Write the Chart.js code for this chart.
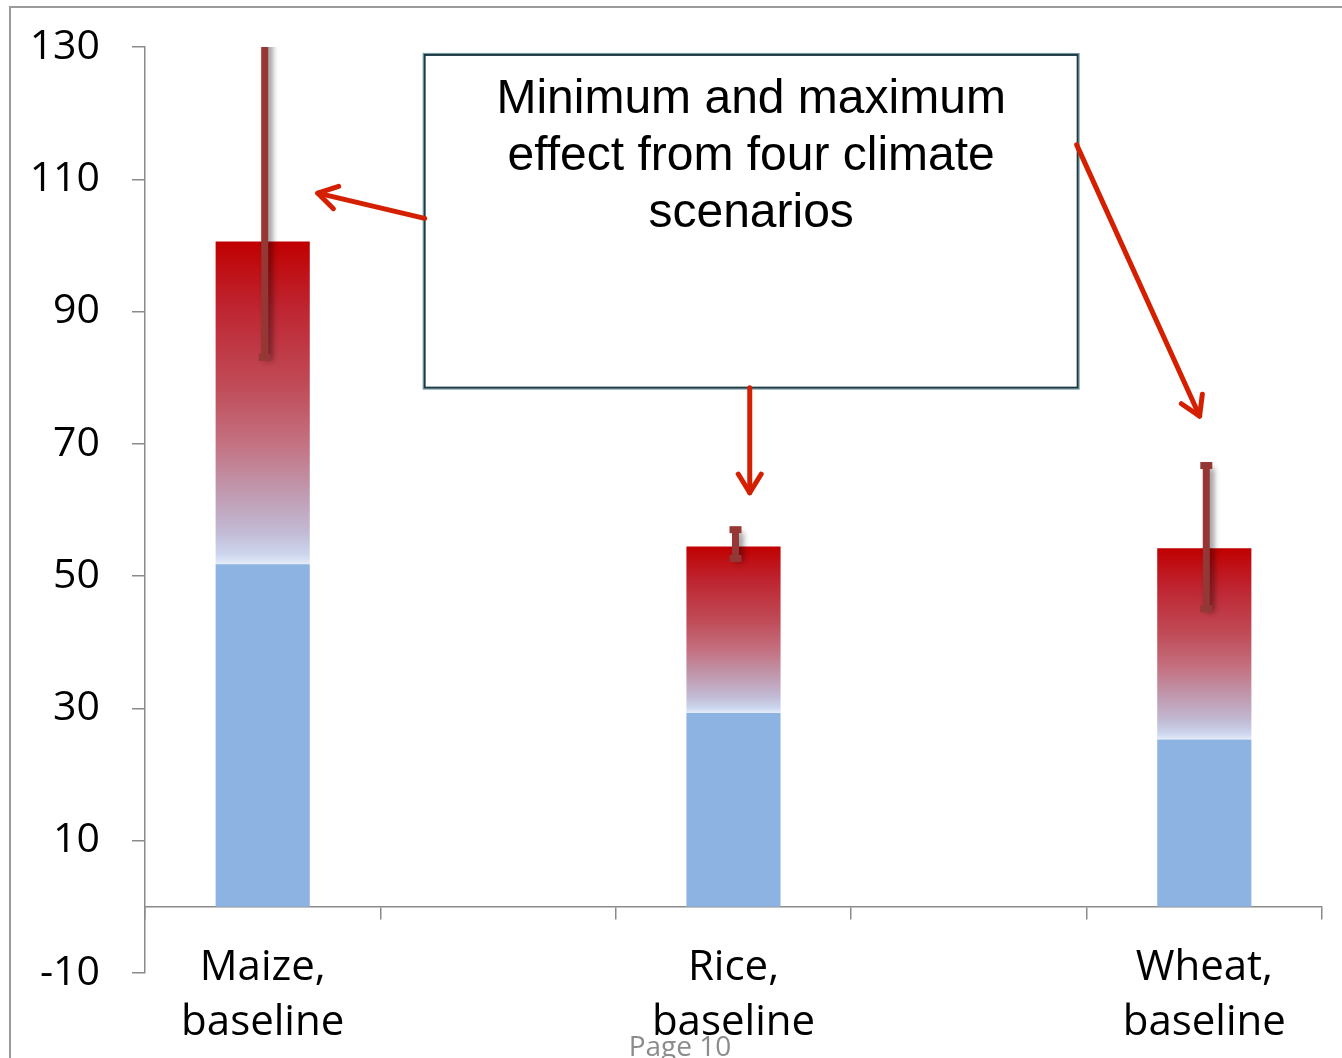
<!DOCTYPE html>
<html>
<head>
<meta charset="utf-8">
<script src="https://cdn.jsdelivr.net/npm/chart.js@4.4.1/dist/chart.umd.min.js"></script>
<style>
  html, body { margin: 0; padding: 0; background: #fff; }
  #wrap { position: relative; width: 1342px; height: 1058px; overflow: hidden; }
</style>
</head>
<body>
<div id="wrap"><canvas id="cropChart" width="1342" height="1058"></canvas></div>
<script>
// categories (empty slots between crops, as in the original sheet)
const categories = [['Maize,', 'baseline'], '', ['Rice,', 'baseline'], '', ['Wheat,', 'baseline']];
// baseline yield (blue part)
const baselineValues = [51.8, null, 29.3, null, 25.3];
// top of the climate effect bar
const effectTop = [100.6, null, 54.5, null, 54.2];
// min / max effect from the four climate scenarios
const effectMin = [83.0, null, 52.6, null, 45.0];
const effectMax = [135, null, 57.1, null, 66.8];
const yTicks = [-10, 10, 30, 50, 70, 90, 110, 130];

const noteLines = ['Minimum and maximum', 'effect from four climate', 'scenarios'];

// stacked part = top - baseline
const effectPart = effectTop.map((v, i) => v == null ? null : v - baselineValues[i]);

function effectGradient(c) {
    const chart = c.chart;
    const i = c.dataIndex;
    if (!chart.chartArea || i == null || effectTop[i] == null) return '#C00000';
    const y = chart.scales.y;
    const yTop = y.getPixelForValue(effectTop[i]);
    const yBot = y.getPixelForValue(baselineValues[i]);
    const g = chart.ctx.createLinearGradient(0, yTop, 0, yBot);
    g.addColorStop(0, '#C00000');
    g.addColorStop(0.2, '#BE2430');
    g.addColorStop(0.45, '#C04C58');
    g.addColorStop(0.62, '#C47080');
    g.addColorStop(0.78, '#C09AB0');
    g.addColorStop(0.9, '#C2BAD4');
    g.addColorStop(0.97, '#CCD6EE');
    g.addColorStop(1, '#E6EDF8');
    return g;
}

// slide frame and page footer
const framePlugin = {
    id: 'frame',
    beforeDraw(chart) {
        const ctx = chart.ctx;
        ctx.save();
        ctx.fillStyle = '#fff';
        ctx.fillRect(0, 0, chart.width, chart.height);
        ctx.strokeStyle = '#9a9a9a';
        ctx.lineWidth = 2;
        ctx.beginPath();
        ctx.moveTo(10, chart.height);
        ctx.lineTo(10, 7);
        ctx.lineTo(chart.width, 7);
        ctx.stroke();
        ctx.fillStyle = '#8c8c8c';
        ctx.font = '28px "Open Sans"';
        ctx.textAlign = 'center';
        ctx.textBaseline = 'alphabetic';
        ctx.fillText('Page 10', 680, 1056);
        ctx.restore();
    }
};

// min/max error bars
const errorBarPlugin = {
    id: 'errorBars',
    afterDatasetsDraw(chart) {
        const ctx = chart.ctx;
        const y = chart.scales.y;
        const meta = chart.getDatasetMeta(1);
        const area = chart.chartArea;
        ctx.save();
        ctx.beginPath();
        ctx.rect(area.left, area.top, area.right - area.left, area.bottom - area.top);
        ctx.clip();
        meta.data.forEach((el, i) => {
            if (effectMin[i] == null) return;
            const x = el.x + 2;
            const y1 = y.getPixelForValue(effectMax[i]);
            const y2 = y.getPixelForValue(effectMin[i]);
            ctx.shadowColor = 'rgba(0,0,0,0.45)';
            ctx.shadowBlur = 6;
            ctx.shadowOffsetX = 4;
            ctx.shadowOffsetY = 3;
            ctx.strokeStyle = '#953735';
            ctx.fillStyle = '#953735';
            ctx.lineWidth = 7;
            ctx.beginPath();
            ctx.moveTo(x, y1);
            ctx.lineTo(x, y2);
            ctx.stroke();
            ctx.shadowColor = 'rgba(0,0,0,0)';
            ctx.fillRect(x - 6, y1 - 3, 12, 7);
            ctx.fillRect(x - 6, y2 - 4, 12, 7);
        });
        ctx.restore();
    }
};

// note box with arrows (positions in category index / value units)
const noteBox = { x0: 0.688, x1: 3.462, yTop: 128.8, yBottom: 78.5 };
const noteArrows = [
    { from: [0.688, 104.1], to: [0.234, 107.9] },
    { from: [2.069, 78.5], to: [2.069, 62.6] },
    { from: [3.458, 115.2], to: [3.98, 74.2] }
];

const notePlugin = {
    id: 'note',
    afterDraw(chart) {
        const ctx = chart.ctx;
        const xs = chart.scales.x;
        const ys = chart.scales.y;
        const px = v => xs.getPixelForValue(v);
        const py = v => ys.getPixelForValue(v);
        ctx.save();
        const bx = px(noteBox.x0), by = py(noteBox.yTop);
        const bw = px(noteBox.x1) - bx, bh = py(noteBox.yBottom) - by;
        ctx.fillStyle = '#fff';
        ctx.fillRect(bx, by, bw, bh);
        ctx.strokeStyle = '#6f9aa6';
        ctx.lineWidth = 1;
        ctx.strokeRect(bx - 1.5, by - 1.5, bw + 3, bh + 3);
        ctx.strokeStyle = '#1d3a44';
        ctx.lineWidth = 2;
        ctx.strokeRect(bx, by, bw, bh);

        ctx.fillStyle = '#000';
        ctx.font = '48px "Liberation Sans", Arial, sans-serif';
        ctx.textAlign = 'center';
        ctx.textBaseline = 'alphabetic';
        noteLines.forEach((t, i) => {
            ctx.fillText(t, bx + bw / 2, by + 58 + i * 57);
        });

        ctx.strokeStyle = '#D42000';
        ctx.lineWidth = 5;
        ctx.lineCap = 'round';
        ctx.lineJoin = 'round';
        noteArrows.forEach(a => {
            const x1 = px(a.from[0]), y1 = py(a.from[1]);
            const x2 = px(a.to[0]), y2 = py(a.to[1]);
            const ang = Math.atan2(y2 - y1, x2 - x1);
            const head = 22, spread = 0.55;
            ctx.beginPath();
            ctx.moveTo(x1, y1);
            ctx.lineTo(x2, y2);
            ctx.stroke();
            ctx.beginPath();
            ctx.moveTo(x2 - head * Math.cos(ang - spread), y2 - head * Math.sin(ang - spread));
            ctx.lineTo(x2, y2);
            ctx.lineTo(x2 - head * Math.cos(ang + spread), y2 - head * Math.sin(ang + spread));
            ctx.stroke();
        });
        ctx.restore();
    }
};

const ctx = document.getElementById('cropChart').getContext('2d');
const cropChart = new Chart(ctx, {
    type: 'bar',
    data: {
        labels: categories,
        datasets: [{
            label: 'Baseline',
            data: baselineValues,
            backgroundColor: '#8DB3E2',
            borderWidth: 0,
            barPercentage: 0.4,
            categoryPercentage: 1
        }, {
            label: 'Climate effect',
            data: effectPart,
            backgroundColor: effectGradient,
            borderWidth: 0,
            barPercentage: 0.4,
            categoryPercentage: 1
        }]
    },
    options: {
        responsive: false,
        animation: false,
        events: [],
        layout: { padding: { top: 47, right: 20, bottom: 85, left: 0 } },
        plugins: {
            legend: { display: false },
            tooltip: { enabled: false }
        },
        scales: {
            x: {
                stacked: true,
                position: { y: 0 },
                offset: true,
                afterFit(scale) { scale.paddingTop = 0; scale.paddingBottom = 0; },
                grid: {
                    offset: true,
                    drawOnChartArea: false,
                    tickLength: 12,
                    color: '#8a8a8a',
                    lineWidth: 1.5
                },
                border: { color: '#8a8a8a', width: 1.5 },
                ticks: {
                    autoSkip: false,
                    maxRotation: 0,
                    color: '#000',
                    padding: 22,
                    font: { family: 'Open Sans', size: 42, lineHeight: 1.3 }
                }
            },
            y: {
                stacked: true,
                min: -10,
                max: 130,
                afterFit(scale) {
                    scale.width = 145;
                    scale.paddingTop = 0;
                    scale.paddingBottom = 0;
                },
                afterBuildTicks(scale) { scale.ticks = yTicks.map(v => ({ value: v })); },
                grid: {
                    drawOnChartArea: false,
                    tickLength: 13,
                    color: '#8a8a8a',
                    lineWidth: 1.5
                },
                border: { color: '#8a8a8a', width: 1.5 },
                ticks: {
                    color: '#000',
                    padding: 32,
                    font: { family: 'Open Sans', size: 41 }
                }
            }
        }
    },
    plugins: [framePlugin, errorBarPlugin, notePlugin]
});
</script>
</body>
</html>
